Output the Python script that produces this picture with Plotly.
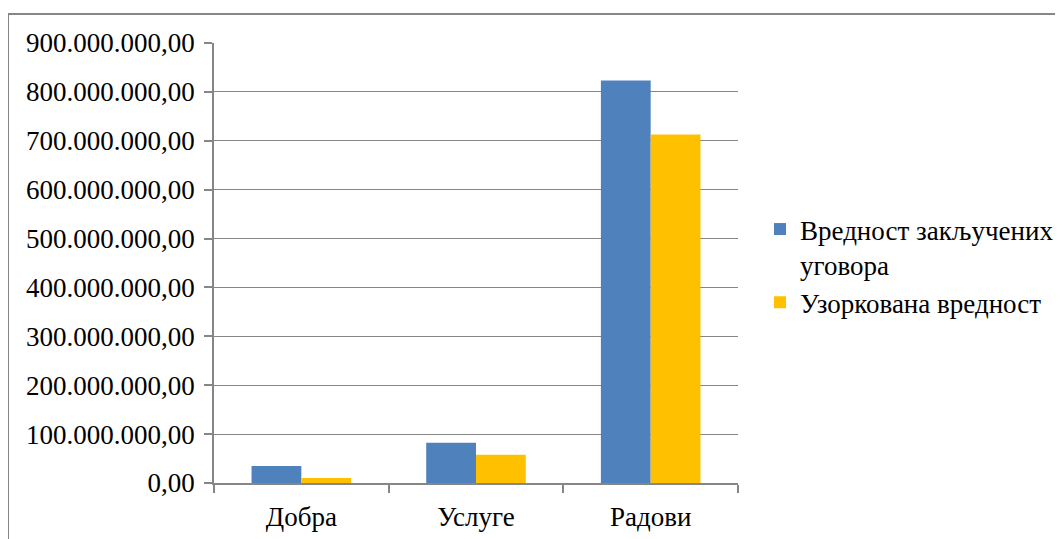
import plotly.graph_objects as go

categories = ["Добра", "Услуге", "Радови"]
series_names = ["Вредност закључених<br>уговора", "Узоркована вредност"]
contracted = [34.8e6, 82.5e6, 823.5e6]
sampled = [10.2e6, 58e6, 713e6]
tick_values = [0, 100e6, 200e6, 300e6, 400e6, 500e6, 600e6, 700e6, 800e6, 900e6]
tick_labels = ["0,00", "100.000.000,00", "200.000.000,00", "300.000.000,00",
               "400.000.000,00", "500.000.000,00", "600.000.000,00",
               "700.000.000,00", "800.000.000,00", "900.000.000,00"]

# page has an 8px body margin; figure coordinates are offset by that
OFF = 8
W, H = 1063 - OFF, 539 - OFF
L, T = 214 - OFF, 43 - OFF
R, B = W - (738 - OFF), H - (483 - OFF)
pw, ph = W - L - R, H - T - B

fig = go.Figure()
fig.add_trace(go.Bar(x=categories, y=contracted, name=series_names[0],
                     marker=dict(color="#4F81BD", line=dict(width=0))))
fig.add_trace(go.Bar(x=categories, y=sampled, name=series_names[1],
                     marker=dict(color="#FFC000", line=dict(width=0))))

font = dict(family="Liberation Serif, Times New Roman, serif", size=27, color="black")

fig.update_layout(
    width=W, height=H,
    margin=dict(l=L, r=R, t=T, b=B, pad=0, autoexpand=False),
    paper_bgcolor="white", plot_bgcolor="white",
    barmode="group", bargap=0.43, bargroupgap=0,
    font=font,
    showlegend=True,
    legend=dict(xref="container", yref="container",
                x=(752 - OFF + 8) / W, xanchor="left",
                y=(H - (266 - OFF)) / H, yanchor="middle",
                valign="top",
                font=font, bgcolor="rgba(0,0,0,0)", tracegroupgap=4),
    xaxis=dict(showgrid=False, showline=True, linecolor="#868686", linewidth=1.5,
               ticks="outside", tickson="boundaries", ticklen=8, tickcolor="#868686",
               tickwidth=1.5, tickfont=font, ticklabelstandoff=9),
    yaxis=dict(range=[0, 900e6], tickvals=tick_values, ticktext=tick_labels,
               showgrid=True, gridcolor="#868686", gridwidth=1.3,
               showline=True, linecolor="#868686", linewidth=1.5,
               ticks="outside", ticklen=8, tickcolor="#868686", tickwidth=1.5,
               tickfont=font, zeroline=False, ticklabelstandoff=4),
    shapes=[dict(type="rect", xref="paper", yref="paper",
                 x0=(0 - L) / pw, x1=(W + 5 - L) / pw,
                 y0=(H - B - (H + 5)) / ph, y1=(H - B - (14 - OFF)) / ph,
                 line=dict(color="#868686", width=2), fillcolor="rgba(0,0,0,0)",
                 layer="below")],
)

fig.write_html("out.html")
